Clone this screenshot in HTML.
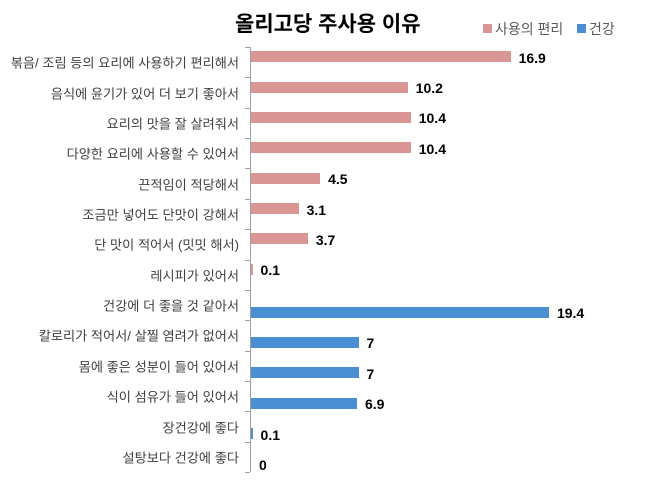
<!DOCTYPE html>
<html><head><meta charset="utf-8"><style>
body{margin:0;background:#fff;font-family:"Liberation Sans","Noto Sans CJK KR",sans-serif}
.c{position:relative;width:649px;height:482px;overflow:hidden}
.t{position:absolute;left:235px;top:8px;font-size:21px;font-weight:bold;color:#000}
.lg{position:absolute;top:19px;font-size:14px;color:#595959}
.sq{display:inline-block;width:9px;height:9px;margin-right:3px;vertical-align:1px}
.lb{position:absolute;right:410px;font-size:13.2px;color:#404040;white-space:nowrap;transform:translateY(-50%)}
.b{position:absolute;left:251px;height:11px}
.v{position:absolute;font-size:14px;font-weight:bold;color:#000;transform:translateY(-50%)}
.ax{position:absolute;left:250px;top:47px;width:1px;height:425px;background:#a0a0a0}
.tk{position:absolute;left:245px;width:5px;height:1px;background:#a0a0a0}
</style></head><body><div class="c">
<div class="t">올리고당 주사용 이유</div>
<div class="lg" style="left:483px"><span class="sq" style="background:#d99694"></span>사용의 편리</div>
<div class="lg" style="left:577px"><span class="sq" style="background:#4a8fd3"></span>건강</div>
<div class="ax"></div>
<div id="x"></div>
<script>
var d=[["볶음/ 조림 등의 요리에 사용하기 편리해서",16.9,0],["음식에 윤기가 있어 더 보기 좋아서",10.2,0],["요리의 맛을 잘 살려줘서",10.4,0],["다양한 요리에 사용할 수 있어서",10.4,0],["끈적임이 적당해서",4.5,0],["조금만 넣어도 단맛이 강해서",3.1,0],["단 맛이 적어서 (밋밋 해서)",3.7,0],["레시피가 있어서",0.1,0],["건강에 더 좋을 것 같아서",19.4,1],["칼로리가 적어서/ 살찔 염려가 없어서",7,1],["몸에 좋은 성분이 들어 있어서",7,1],["식이 섬유가 들어 있어서",6.9,1],["장건강에 좋다",0.1,1],["설탕보다 건강에 좋다",0,1]];
var h="",s=15.36;
for(var i=0;i<=14;i++)h+='<div class="tk" style="top:'+(47+i*30.36).toFixed(1)+'px"></div>';
d.forEach(function(r,i){var cy=47+i*30.36+15.2;var by=r[2]?cy+7:cy-5.5;var w=Math.max(r[1]*s,r[1]>0?1.5:0);
h+='<div class="lb" style="top:'+cy+'px">'+r[0]+'</div>';
h+='<div class="b" style="top:'+(by-5.5)+'px;width:'+w+'px;background:'+(r[2]?'#4a8fd3':'#d99694')+'"></div>';
h+='<div class="v" style="left:'+(251+w+8)+'px;top:'+(by+1)+'px">'+r[1]+'</div>';});
document.getElementById("x").innerHTML=h;
</script>
</div></body></html>
